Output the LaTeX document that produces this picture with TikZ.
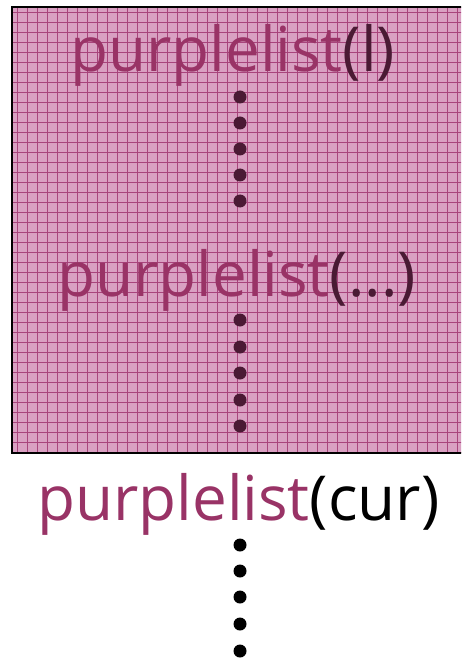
\documentclass[tikz,border=0pt]{standalone}
\usepackage{fontspec}
\setmainfont{Open Sans}
\definecolor{plum}{HTML}{993366}
\definecolor{darkplum}{HTML}{4A1A34}
\definecolor{pinkfill}{HTML}{D9A0C2}
\definecolor{gridline}{HTML}{A8447C}
\begin{document}
\begin{tikzpicture}[x=1pt,y=-1pt,
  lbl/.style={anchor=base west,inner sep=0pt,font=\fontsize{62}{62}\selectfont},
  dot/.style={circle,inner sep=0pt,minimum size=13pt},
  indot/.style={dot,fill=darkplum},
  outdot/.style={dot,fill=black}]
\useasboundingbox (0,0) rectangle (461,660);
\begin{scope}
\clip (0,0) rectangle (461,660);
\fill[pinkfill] (12,7) rectangle (470,453);
\foreach \x in {17,27,...,467} \draw[gridline,line width=0.9pt] (\x,7) -- (\x,453);
\foreach \y in {12,22,...,452} \draw[gridline,line width=0.9pt] (12,\y) -- (470,\y);
\draw[black,line width=1.6pt] (470,7) -- (12,7) -- (12,453) -- (470,453);
\end{scope}
\node[lbl] (t1) at (70,72) {\textcolor{plum}{purplelist}\textcolor{darkplum}{(l)}};
\node[lbl] (t2) at (57,296) {\textcolor{plum}{purplelist}\textcolor{darkplum}{(...)}};
\node[lbl] (t3) at (37,520) {\textcolor{plum}{purplelist}\textcolor{black}{(cur)}};
\foreach \i/\y in {1/97,2/123,3/149,4/175,5/201} \node[indot] (a\i) at (240,\y) {};
\foreach \i/\y in {1/320,2/347,3/373,4/400,5/426} \node[indot] (b\i) at (240,\y) {};
\foreach \i/\y in {1/545,2/571,3/597,4/624,5/651} \node[outdot] (c\i) at (240,\y) {};
\end{tikzpicture}
\end{document}
